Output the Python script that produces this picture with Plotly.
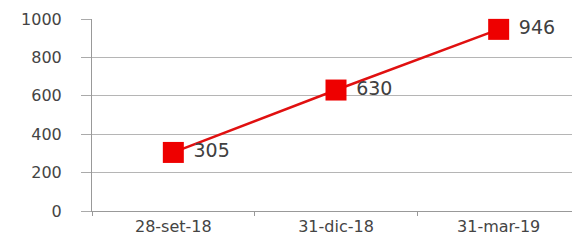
import plotly.graph_objects as go

categories = ["28-set-18", "31-dic-18", "31-mar-19"]
values = [305, 630, 946]
y_ticks = [0, 200, 400, 600, 800, 1000]

fig = go.Figure()
fig.add_trace(go.Scatter(
    x=categories, y=values,
    mode="lines+markers+text",
    line=dict(color="#e01010", width=2.5),
    marker=dict(symbol="square", size=21, color="#ee0000"),
    text=[" " + str(v) for v in values],
    textposition="middle right",
    textfont=dict(family="DejaVu Sans", size=19, color="#404040"),
    cliponaxis=False,
    showlegend=False,
))

# page body has an 8px default margin, so the figure is sized to fit the window
fig.update_layout(
    width=572, height=234,
    margin=dict(l=84, r=0, t=11, b=31),
    paper_bgcolor="white", plot_bgcolor="white",
    font=dict(family="DejaVu Sans", size=16, color="#444444"),
    xaxis=dict(
        type="category", range=[-0.5, 2.5], automargin=False,
        tickson="boundaries", ticks="outside", ticklen=4, tickcolor="#999999",
        showgrid=False, showline=True, linecolor="#999999", linewidth=1,
        ticklabelstandoff=1, tickfont=dict(size=16),
    ),
    yaxis=dict(
        range=[0, 1000], tickvals=y_ticks, automargin=False,
        ticks="outside", ticklen=10, tickcolor="#aaaaaa",
        showgrid=True, gridcolor="#b5b5b5", gridwidth=1,
        showline=True, linecolor="#999999", linewidth=1,
        zeroline=False, ticklabelstandoff=16, tickfont=dict(size=16),
    ),
)

fig.write_html("out.html")
